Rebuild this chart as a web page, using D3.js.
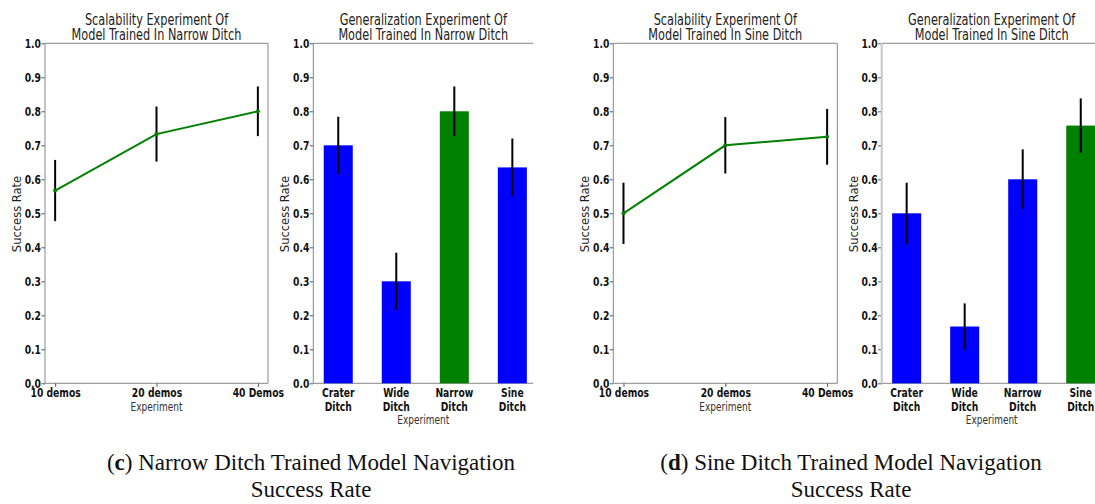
<!DOCTYPE html>
<html>
<head>
<meta charset="utf-8">
<script src="https://cdn.jsdelivr.net/npm/d3@7"></script>
<style>
  body { margin: 0; background: #fff; }
  svg { display: block; }
  .tick text { font-family: "DejaVu Sans", sans-serif; font-weight: bold; fill: #111; }
</style>
</head>
<body>
<svg id="chart" width="1095" height="504"></svg>
<script>
// data
var scaleLabels = ["10 demos", "20 demos", "40 Demos"];
var genLabels = ["Crater Ditch", "Wide Ditch", "Narrow Ditch", "Sine Ditch"];
var yTicks = [0, 0.1, 0.2, 0.3, 0.4, 0.5, 0.6, 0.7, 0.8, 0.9, 1.0];

var narrowScaleRate = [0.567, 0.733, 0.8];
var narrowScaleErr = [0.09, 0.081, 0.073];
var narrowGenRate = [0.7, 0.3, 0.8, 0.635];
var narrowGenErr = [0.084, 0.084, 0.073, 0.085];

var sineScaleRate = [0.5, 0.7, 0.725];
var sineScaleErr = [0.09, 0.083, 0.082];
var sineGenRate = [0.5, 0.167, 0.6, 0.758];
var sineGenErr = [0.09, 0.068, 0.088, 0.08];

// the figure was squeezed sideways, text follows that
var SX = 0.72;
var top0 = 43.3, bottom0 = 383.3;

const svg = d3.select("#chart");

const y = d3.scaleLinear().domain([0, 1]).range([bottom0, top0]);

function title(cx, lines) {
  lines.forEach(function(t, i) {
    svg.append("text")
      .attr("x", cx / SX)
      .attr("y", 25 + i * 14.8)
      .attr("transform", `scale(${SX},1)`)
      .attr("text-anchor", "middle")
      .style("font-family", "DejaVu Sans, sans-serif")
      .style("font-size", "15.7px")
      .style("fill", "#222")
      .text(t);
  });
}

function yLabel(x) {
  svg.append("text")
    .attr("transform", `translate(${x},214) rotate(-90)`)
    .attr("text-anchor", "middle")
    .style("font-family", "DejaVu Sans, sans-serif")
    .style("font-size", "11.5px")
    .style("fill", "#222")
    .text("Success Rate");
}

function xLabel(cx, yy) {
  svg.append("text")
    .attr("x", cx / SX)
    .attr("y", yy)
    .attr("transform", `scale(${SX},1)`)
    .attr("text-anchor", "middle")
    .style("font-family", "DejaVu Sans, sans-serif")
    .style("font-size", "12.5px")
    .style("fill", "#333")
    .text("Experiment");
}

function leftAxis(x0, spineColor, spineWidth) {
  const g = svg.append("g")
    .attr("transform", `translate(${x0},0)`)
    .call(d3.axisLeft(y).tickValues(yTicks).tickFormat(d3.format(".1f")).tickSize(3.5).tickPadding(0.5));
  g.select(".domain").remove();
  g.selectAll(".tick line").attr("stroke", "#555");
  g.selectAll(".tick text")
    .style("font-size", "12.8px")
    .attr("x", -4 / SX)
    .attr("transform", `scale(${SX},1)`);
  svg.append("line")
    .attr("x1", x0).attr("x2", x0)
    .attr("y1", top0).attr("y2", bottom0)
    .attr("stroke", spineColor).attr("stroke-width", spineWidth);
}

function frame(x0, x1, rightSpine) {
  svg.append("line").attr("x1", x0).attr("x2", x1).attr("y1", top0).attr("y2", top0)
    .attr("stroke", "#888").attr("stroke-width", 1);
  svg.append("line").attr("x1", x0).attr("x2", x1).attr("y1", bottom0).attr("y2", bottom0)
    .attr("stroke", "#888").attr("stroke-width", 1);
  if (rightSpine) {
    svg.append("line").attr("x1", x1).attr("x2", x1).attr("y1", top0).attr("y2", bottom0)
      .attr("stroke", "#888").attr("stroke-width", 1);
  }
}

function errorBars(xs, rates, errs) {
  svg.append("g").selectAll("line")
    .data(rates)
    .join("line")
    .attr("x1", (d, i) => xs[i]).attr("x2", (d, i) => xs[i])
    .attr("y1", (d, i) => y(d + errs[i]))
    .attr("y2", (d, i) => y(d - errs[i]))
    .attr("stroke", "black")
    .attr("stroke-width", 2);
}

function linePanel(x0, x1, rates, errs, titleLines) {
  const x = d3.scalePoint().domain(scaleLabels).range([x0, x1]).padding(0.1);
  frame(x0, x1, true);

  const gx = svg.append("g")
    .attr("transform", `translate(0,${bottom0})`)
    .call(d3.axisBottom(x).tickSize(3.5).tickPadding(1.3));
  gx.select(".domain").remove();
  gx.selectAll(".tick line").attr("stroke", "#555");
  gx.selectAll(".tick text")
    .style("font-size", "12.8px")
    .attr("transform", `scale(${SX},1)`);

  leftAxis(x0, "#888", 1);

  const pts = scaleLabels.map((c, i) => [x(c), y(rates[i])]);
  svg.append("path")
    .attr("d", d3.line()(pts))
    .attr("fill", "none")
    .attr("stroke", "#008000")
    .attr("stroke-width", 2);
  errorBars(scaleLabels.map(c => x(c)), rates, errs);
  svg.append("g").selectAll("circle")
    .data(pts)
    .join("circle")
    .attr("cx", d => d[0]).attr("cy", d => d[1])
    .attr("r", 2)
    .attr("fill", "#008000");

  title((x0 + x1) / 2, titleLines);
  yLabel(x0 - 24);
  xLabel((x0 + x1) / 2, 411.5);
}

function barPanel(x0, x1, rates, errs, trained, titleLines, spineColor, spineWidth) {
  const x = d3.scaleBand().domain(genLabels).range([x0, x0 + 224]).paddingInner(0.5).paddingOuter(0.18);
  frame(x0, x1, false);

  svg.append("g").selectAll("rect")
    .data(genLabels)
    .join("rect")
    .attr("x", d => x(d))
    .attr("width", x.bandwidth())
    .attr("y", (d, i) => y(rates[i]))
    .attr("height", (d, i) => y(0) - y(rates[i]))
    .attr("fill", d => d === trained ? "#008000" : "#0000ff");

  errorBars(genLabels.map(c => x(c) + x.bandwidth() / 2), rates, errs);

  const gx = svg.append("g")
    .attr("transform", `translate(0,${bottom0})`)
    .call(d3.axisBottom(x).tickSize(0).tickPadding(4.8));
  gx.select(".domain").remove();
  gx.selectAll(".tick text")
    .style("font-size", "12.8px")
    .attr("transform", `scale(${SX},1)`)
    .each(function(d) {
      const t = d3.select(this);
      const words = d.split(" ");
      t.text(null);
      words.forEach((w, i) => {
        t.append("tspan").attr("x", 0).attr("dy", i === 0 ? "0.71em" : "1.08em").text(w);
      });
    });

  leftAxis(x0, spineColor, spineWidth);

  title((x0 + x1) / 2, titleLines);
  yLabel(x0 - 24);
  xLabel((x0 + x1) / 2, 424);
}

linePanel(45, 268, narrowScaleRate, narrowScaleErr,
  ["Scalability Experiment Of", "Model Trained In Narrow Ditch"]);
barPanel(313.3, 533.3, narrowGenRate, narrowGenErr, "Narrow Ditch",
  ["Generalization Experiment Of", "Model Trained In Narrow Ditch"], "#888", 1);
linePanel(613.3, 837.3, sineScaleRate, sineScaleErr,
  ["Scalability Experiment Of", "Model Trained In Sine Ditch"]);
barPanel(881.7, 1101.7, sineGenRate, sineGenErr, "Sine Ditch",
  ["Generalization Experiment Of", "Model Trained In Sine Ditch"], "#c8c8c8", 2);

// captions
function caption(cx, letter, rest) {
  const t = svg.append("text")
    .attr("x", cx).attr("y", 470)
    .attr("text-anchor", "middle")
    .style("font-family", "Liberation Serif, serif")
    .style("font-size", "23px")
    .style("fill", "#111");
  t.append("tspan").text("(");
  t.append("tspan").style("font-weight", "bold").text(letter);
  t.append("tspan").text(") " + rest);
  svg.append("text")
    .attr("x", cx).attr("y", 497)
    .attr("text-anchor", "middle")
    .style("font-family", "Liberation Serif, serif")
    .style("font-size", "23px")
    .style("fill", "#111")
    .text("Success Rate");
}
caption(311, "c", "Narrow Ditch Trained Model Navigation");
caption(851, "d", "Sine Ditch Trained Model Navigation");
</script>
</body>
</html>
